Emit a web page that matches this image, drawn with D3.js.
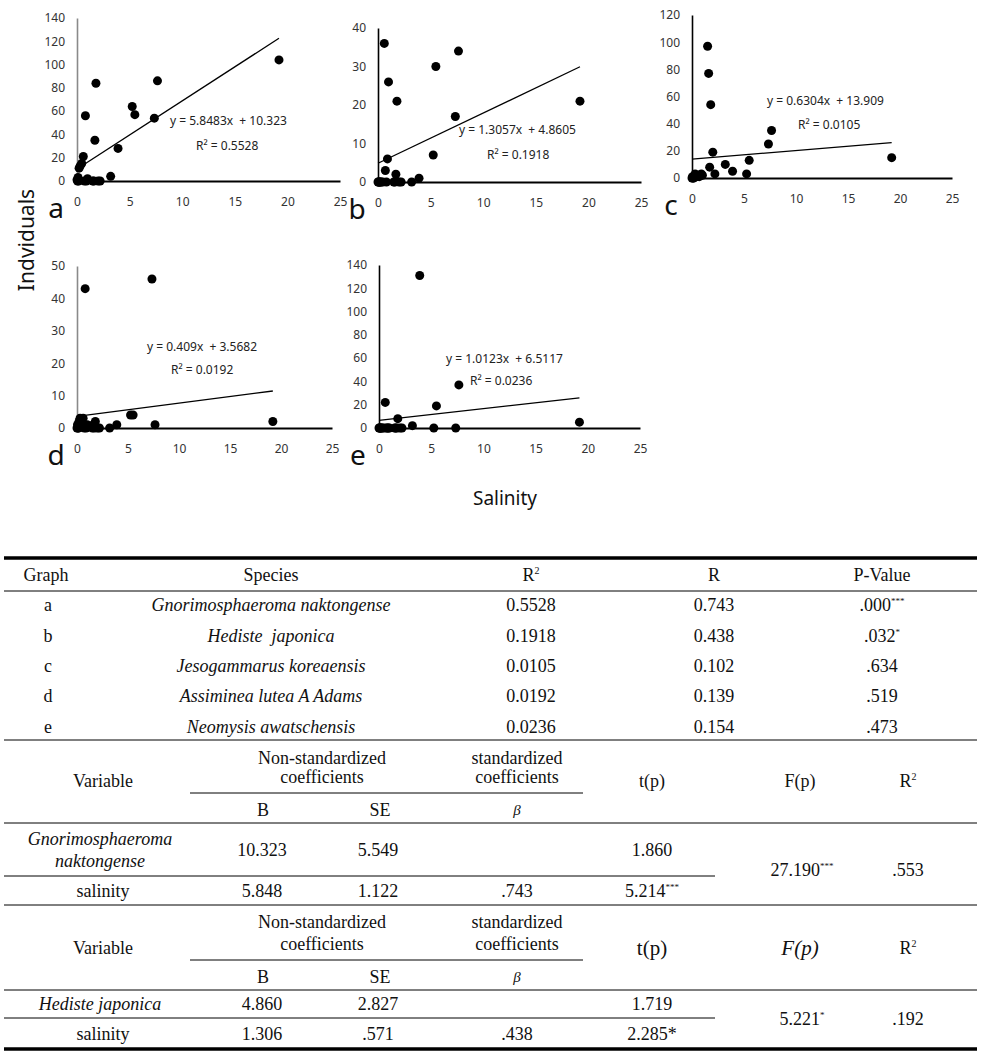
<!DOCTYPE html>
<html><head><meta charset="utf-8">
<script src="https://cdn.jsdelivr.net/npm/d3@7"></script>
<style>body{margin:0;background:#fff}</style>
</head><body>
<svg id="c" width="982" height="1054"></svg>
<script>
// ---------------- data ----------------
const salinity = [0, 0.05, 0.1, 0.15, 0.2, 0.3, 0.45, 0.6, 0.7, 0.8, 0.9, 1.0, 1.5, 1.6, 1.7, 1.8, 2.0, 2.2, 3.2, 3.9, 5.25, 5.5, 7.35, 7.65, 19.2];
const countA = [1, 0, 3, 0, 11, 13, 15, 21, 0, 56, 0, 2, 0, 0, 35, 84, 0, 0, 4, 28, 64, 57, 54, 86, 104];
const countB = [0, 0, 0, 0, 0, 0, 0, 36, 3, 0, 6, 26, 0, 0, 2, 21, 0, 0, 0, 1, 7, 30, 17, 34, 21];
const countC = [0, 1, 0, 0, 1, 3, 1, 2, 1, 2, 3, 2, 97, 77, 8, 54, 19, 3, 10, 5, 3, 13, 25, 35, 15];
const countD = [0, 1, 0, 0, 2, 3, 1, 3, 0, 43, 0, 1, 0, 1, 0, 2, 0, 0, 0, 1, 4, 4, 46, 1, 2];
const countE = [0, 0, 0, 0, 0, 0, 0, 22, 0, 0, 0, 0, 0, 0, 0, 8, 0, 0, 2, 131, 0, 19, 0, 37, 5];
const panelLetters = ["a", "b", "c", "d", "e"];
const slopes = [5.8483, 1.3057, 0.6304, 0.409, 1.0123];
const intercepts = [10.323, 4.8605, 13.909, 3.5682, 6.5117];
const rSquared = ["0.5528", "0.1918", "0.0105", "0.0192", "0.0236"];
const yMax = [140, 40, 120, 50, 140];
const yStep = [20, 10, 20, 10, 20];
const xTicks = [0, 5, 10, 15, 20, 25];

const species = ["Gnorimosphaeroma naktongense", "Hediste  japonica", "Jesogammarus koreaensis", "Assiminea lutea A Adams", "Neomysis awatschensis"];
const tabR2 = ["0.5528", "0.1918", "0.0105", "0.0192", "0.0236"];
const tabR = ["0.743", "0.438", "0.102", "0.139", "0.154"];
const tabP = [".000", ".032", ".634", ".519", ".473"];
const tabPStars = ["***", "*", "", "", ""];

const regVariable = [["Gnorimosphaeroma", "naktongense"], ["Hediste japonica"]];
const regB = [["10.323", "5.848"], ["4.860", "1.306"]];
const regSE = [["5.549", "1.122"], ["2.827", ".571"]];
const regBeta = [["", ".743"], ["", ".438"]];
const regT = [["1.860", "5.214"], ["1.719", "2.285*"]];
const regTStars = [["", "***"], ["", ""]];
const regF = ["27.190", "5.221"];
const regFStars = ["***", "*"];
const regR2 = [".553", ".192"];

// ---------------- drawing ----------------
const svg = d3.select("#c");
svg.append("rect").attr("width", 982).attr("height", 1054).attr("fill", "#fff");
const sans = "'Noto Sans', 'Open Sans', sans-serif";
const serif = "'Liberation Serif', 'Times New Roman', serif";
const counts = [countA, countB, countC, countD, countE];

const frames = [
  {x0: 77,  x1: 340, y0: 181, y1: 18,  axisCol: "#8a8a8a", eq: [170, 121], r2: [196, 146]},
  {x0: 378, x1: 641, y0: 182, y1: 28,  axisCol: "#000",    eq: [459, 130], r2: [487, 155]},
  {x0: 692, x1: 952, y0: 178, y1: 15,  axisCol: "#000",    eq: [767, 101], r2: [798, 125]},
  {x0: 77,  x1: 332, y0: 428, y1: 266, axisCol: "#8a8a8a", eq: [147, 347], r2: [171, 370]},
  {x0: 379, x1: 640, y0: 428, y1: 265, axisCol: "#000",    eq: [446, 359], r2: [470, 381]}
];
const salMax = d3.max(salinity);

frames.forEach((f, i) => {
  const x = d3.scaleLinear().domain([0, 25]).range([f.x0, f.x1]);
  const y = d3.scaleLinear().domain([0, yMax[i]]).range([f.y0, f.y1]);
  const g = svg.append("g");

  const ya = g.append("g").attr("transform", `translate(${f.x0},0)`)
    .call(d3.axisLeft(y).tickValues(d3.range(0, yMax[i] + 1, yStep[i])).tickSize(0).tickPadding(12));
  ya.select(".domain").attr("stroke", f.axisCol).attr("stroke-width", 1.6);
  ya.selectAll("text").attr("font-family", sans).attr("font-size", 12).attr("fill", "#333");

  const xa = g.append("g").attr("transform", `translate(0,${f.y0})`)
    .call(d3.axisBottom(x).tickValues(xTicks).tickSize(0).tickPadding(16));
  xa.select(".domain").attr("stroke", "#000").attr("stroke-width", 2);
  xa.selectAll("text").attr("font-family", sans).attr("font-size", 12).attr("fill", "#333");

  // regression line
  g.append("line")
    .attr("x1", x(0)).attr("y1", y(intercepts[i]))
    .attr("x2", x(salMax)).attr("y2", y(intercepts[i] + slopes[i] * salMax))
    .attr("stroke", "#000").attr("stroke-width", 1.3);

  // points
  g.selectAll("circle").data(salinity.map((s, k) => [s, counts[i][k]])).join("circle")
    .attr("cx", d => x(d[0])).attr("cy", d => y(d[1])).attr("r", 4.5).attr("fill", "#000");

  g.append("text").attr("x", f.eq[0]).attr("y", f.eq[1]).attr("dy", "0.35em")
    .attr("font-family", sans).attr("font-size", 12).attr("fill", "#222")
    .style("white-space", "pre")
    .text(`y = ${slopes[i]}x  + ${intercepts[i]}`);
  g.append("text").attr("x", f.r2[0]).attr("y", f.r2[1]).attr("dy", "0.35em")
    .attr("font-family", sans).attr("font-size", 12).attr("fill", "#222")
    .style("white-space", "pre")
    .text(`R\u00B2 = ${rSquared[i]}`);

  g.append("text").attr("x", f.x0 - 21).attr("y", f.y0 + 37).attr("text-anchor", "middle")
    .attr("font-family", sans).attr("font-size", 28).attr("fill", "#111").text(panelLetters[i]);
});

svg.append("text").attr("transform", "translate(34,240) rotate(-90)").attr("text-anchor", "middle")
  .attr("font-family", sans).attr("font-size", 21).attr("fill", "#111").text("Indviduals");
svg.append("text").attr("x", 505).attr("y", 505).attr("text-anchor", "middle")
  .attr("font-family", sans).attr("font-size", 19).attr("fill", "#111").text("Salinity");

// ---------------- tables ----------------
const T = svg.append("g").attr("font-family", serif).attr("font-size", 18).attr("fill", "#111");
function txt(x, y, s, o = {}) {
  const t = T.append("text").attr("x", x).attr("y", y).attr("dy", "0.35em")
    .attr("text-anchor", o.anchor || "middle").style("white-space", "pre");
  if (o.italic) t.attr("font-style", "italic");
  if (o.size) t.attr("font-size", o.size);
  t.append("tspan").text(s);
  if (o.sup) t.append("tspan").attr("font-size", o.supSize || 9).attr("dy", -7).text(o.sup);
  return t;
}
function hline(y, x1, x2, w) {
  T.append("line").attr("x1", x1).attr("x2", x2).attr("y1", y).attr("y2", y)
    .attr("stroke", "#000").attr("stroke-width", w || 1);
}

const L = 4, R = 977;
hline(558, L, R, 3.5);
txt(46, 575, "Graph"); txt(271, 575, "Species"); txt(531, 575, "R", {sup: "2", supSize: 10});
txt(714, 575, "R"); txt(882, 575, "P-Value");
hline(591, L, R, 1);
panelLetters.forEach((p, i) => {
  const yy = 605 + i * 30.3;
  txt(48, yy, p);
  txt(271, yy, species[i], {italic: true});
  txt(531, yy, tabR2[i]);
  txt(714, yy, tabR[i]);
  txt(882, yy, tabP[i], {sup: tabPStars[i]});
});
hline(740, L, R, 1);

const blocks = [
  {top: 740, ns: 758, co: 777, hd: 781, sub: 793, bse: 810, line: 823, r1: 850, part: 876, r2: 891, fy: 870, big: false},
  {top: 905, ns: 922, co: 944, hd: 948, sub: 960, bse: 977, line: 990, r1: 1004, part: 1018, r2: 1034, fy: 1019, big: true}
];
blocks.forEach((b, k) => {
  txt(322, b.ns, "Non-standardized"); txt(322, b.co, "coefficients");
  txt(517, b.ns, "standardized"); txt(517, b.co, "coefficients");
  txt(103, b.hd, "Variable");
  if (b.big) {
    txt(652, b.hd, "t(p)", {size: 21});
    txt(800, b.hd, "F(p)", {size: 21, italic: true});
  } else {
    txt(652, b.hd, "t(p)");
    txt(800, b.hd, "F(p)");
  }
  txt(908, b.hd, "R", {sup: "2", supSize: 10});
  hline(b.sub, 190, 583, 1);
  txt(263, b.bse, "B"); txt(380, b.bse, "SE"); txt(517, b.bse, "\u03B2", {italic: true, size: 15});
  hline(b.line, L, R, 1);
  const v = regVariable[k];
  if (v.length === 2) {
    txt(100, b.r1 - 11, v[0], {italic: true});
    txt(100, b.r1 + 11, v[1], {italic: true});
  } else {
    txt(100, b.r1, v[0], {italic: true});
  }
  txt(103, b.r2, "salinity");
  [b.r1, b.r2].forEach((yy, j) => {
    txt(262, yy, regB[k][j]);
    txt(378, yy, regSE[k][j]);
    if (regBeta[k][j]) txt(517, yy, regBeta[k][j]);
    txt(652, yy, regT[k][j], {sup: regTStars[k][j]});
  });
  hline(b.part, L, 715, 1);
  txt(802, b.fy, regF[k], {sup: regFStars[k]});
  txt(908, b.fy, regR2[k]);
});
hline(905, L, R, 1);
hline(1049, L, R, 3.5);
</script>
</body></html>
